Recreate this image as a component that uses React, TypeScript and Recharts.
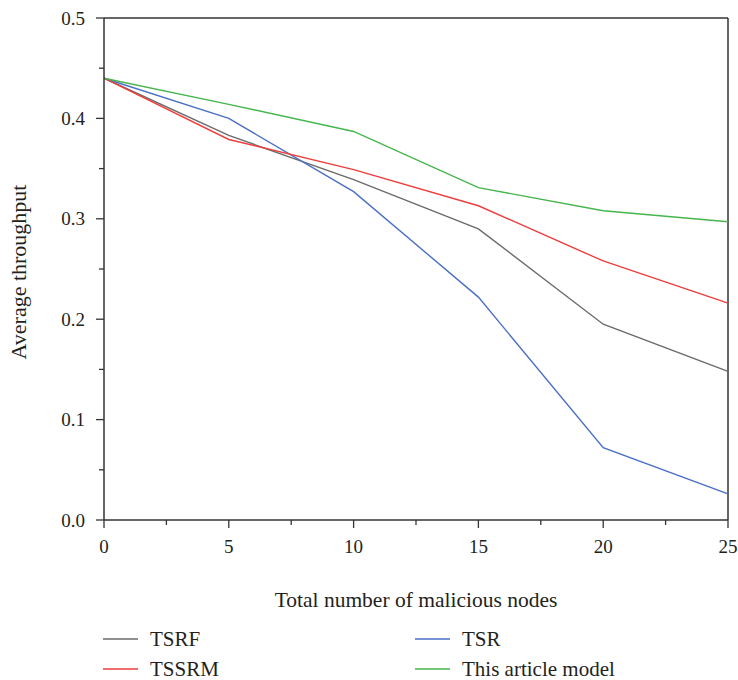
import React from 'react';
import { LineChart, Line, XAxis, YAxis, ReferenceLine, Legend } from 'recharts';

const nodes = [0, 5, 10, 15, 20, 25];
const tsrf = [0.44, 0.383, 0.339, 0.29, 0.195, 0.148];
const tssrm = [0.44, 0.379, 0.349, 0.313, 0.258, 0.216];
const tsr = [0.44, 0.4, 0.327, 0.222, 0.072, 0.026];
const model = [0.44, 0.414, 0.387, 0.331, 0.308, 0.297];

const xTicks = [0, 2.5, 5, 7.5, 10, 12.5, 15, 17.5, 20, 22.5, 25];
const yTicks = [0, 0.05, 0.1, 0.15, 0.2, 0.25, 0.3, 0.35, 0.4, 0.45, 0.5];

const seriesNames = ['TSRF', 'TSR', 'TSSRM', 'This article model'];
const seriesKeys = ['tsrf', 'tsr', 'tssrm', 'model'];
const colors = ['#6b6b6b', '#4a6fc6', '#ee3d3d', '#45b54d'];

const data = nodes.map((n, i) => ({
  n,
  tsrf: tsrf[i],
  tssrm: tssrm[i],
  tsr: tsr[i],
  model: model[i],
}));

const FONT = '"Liberation Serif", "DejaVu Serif", serif';
const TEXT = '#231f20';
const AXIS = '#333333';

const isMajorY = (v: number) => Math.abs(v * 10 - Math.round(v * 10)) < 1e-6;
const isMajorX = (v: number) => Math.abs(v / 5 - Math.round(v / 5)) < 1e-6;

const YTick = (props: any) => {
  const { x, y, payload } = props;
  const v = payload.value as number;
  if (isMajorY(v)) {
    return (
      <g>
        <line x1={x} x2={x - 8} y1={y} y2={y} stroke={AXIS} strokeWidth={1.3} />
        <text x={x - 19} y={y} dy="0.35em" textAnchor="end" fontFamily={FONT} fontSize={19} fill={TEXT}>
          {v.toFixed(1)}
        </text>
      </g>
    );
  }
  return <line x1={x} x2={x - 5} y1={y} y2={y} stroke={AXIS} strokeWidth={1.3} />;
};

const XTick = (props: any) => {
  const { x, y, payload } = props;
  const v = payload.value as number;
  if (isMajorX(v)) {
    return (
      <g>
        <line x1={x} x2={x} y1={y} y2={y + 8} stroke={AXIS} strokeWidth={1.3} />
        <text x={x} y={y + 26} dy="0.35em" textAnchor="middle" fontFamily={FONT} fontSize={19} fill={TEXT}>
          {String(v)}
        </text>
      </g>
    );
  }
  return <line x1={x} x2={x} y1={y} y2={y + 5} stroke={AXIS} strokeWidth={1.3} />;
};

const LegendContent = () => {
  const cols = [103, 415];
  const rows = [17, 47];
  return (
    <div style={{ position: 'relative', height: 58, width: 738 }}>
      {seriesNames.map((name, i) => {
        const left = cols[i % 2];
        const top = rows[Math.floor(i / 2)];
        return (
          <div key={name} style={{ position: 'absolute', left, top: top - 11, height: 22, display: 'flex', alignItems: 'center' }}>
            <svg width={35} height={4} style={{ display: 'block' }}>
              <line x1={0} x2={35} y1={2} y2={2} stroke={colors[i]} strokeWidth={1.5} />
            </svg>
            <span style={{ marginLeft: 12, fontFamily: FONT, fontSize: 21, lineHeight: '22px', color: TEXT, whiteSpace: 'nowrap' }}>{name}</span>
          </div>
        );
      })}
    </div>
  );
};

export default function App() {
  return (
    <div style={{ position: 'absolute', left: 0, top: 0, background: '#fff' }}>
      <LineChart width={738} height={680} data={data} margin={{ top: 18, right: 10, left: 0, bottom: 0 }}>
        <XAxis
          dataKey="n"
          type="number"
          domain={[0, 25]}
          ticks={xTicks}
          interval={0}
          tickSize={0}
          tickMargin={0}
          tickLine={false}
          tick={<XTick />}
          height={102}
          axisLine={{ stroke: AXIS, strokeWidth: 1.5 }}
          label={{ value: 'Total number of malicious nodes', position: 'insideBottom', offset: 15, fontFamily: FONT, fontSize: 21.5, fill: TEXT }}
        />
        <YAxis
          type="number"
          domain={[0, 0.5]}
          ticks={yTicks}
          interval={0}
          tickSize={0}
          tickMargin={0}
          tickLine={false}
          tick={<YTick />}
          width={104}
          axisLine={{ stroke: AXIS, strokeWidth: 1.5 }}
          label={{ value: 'Average throughput', angle: -90, position: 'insideLeft', offset: 18, dy: 3, fontFamily: FONT, fontSize: 22, fill: TEXT, style: { textAnchor: 'middle' } }}
        />
        <ReferenceLine y={0.5} stroke={AXIS} strokeWidth={1.5} ifOverflow="extendDomain" />
        <ReferenceLine x={25} stroke={AXIS} strokeWidth={1.5} ifOverflow="extendDomain" />
        <Legend verticalAlign="bottom" align="left" content={<LegendContent />} height={58} />
        {seriesKeys.map((k, i) => (
          <Line key={k} dataKey={k} name={seriesNames[i]} stroke={colors[i]} strokeWidth={1.4} dot={false} isAnimationActive={false} type="linear" />
        ))}
      </LineChart>
    </div>
  );
}
